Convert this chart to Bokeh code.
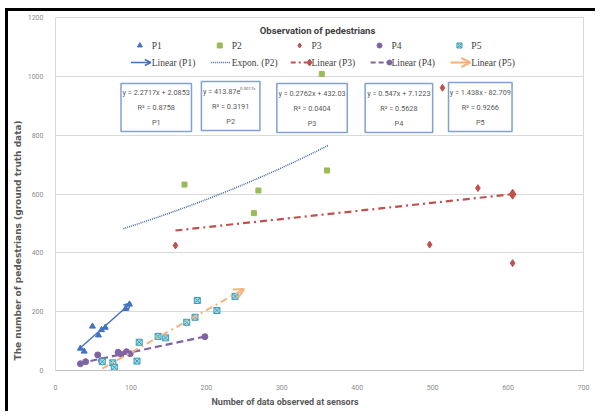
import numpy as np
from bokeh.plotting import figure
from bokeh.models import Label, Arrow, OpenHead, FixedTicker, Range1d, Title
from bokeh.core.properties import value
from bokeh.embed import file_html
from bokeh.resources import INLINE

# ---------------- data ----------------
p1_x = [33, 38, 49, 57, 61, 66, 93, 98]
p1_y = [75, 65, 150, 120, 138, 146, 210, 225]
p2_x = [171, 263, 269, 353, 360]
p2_y = [632, 535, 612, 1008, 680]
p3_x = [159, 496, 513, 560, 606, 606]
p3_y = [425, 428, 961, 620, 597, 365]
p4_x = [33, 40, 56, 61, 83, 87, 94, 99, 198]
p4_y = [23, 30, 53, 33, 62, 55, 64, 57, 115]
p5_x = [62, 76, 78, 108, 111, 136, 146, 174, 185, 188, 214, 238]
p5_y = [30, 26, 11, 32, 96, 116, 111, 164, 181, 238, 204, 252]

# trend line coefficients and x spans
p1_fit = (2.2717, 2.0853)
p2_fit = (413.87, 0.0017)
p3_fit = (0.2762, 432.03)
p4_fit = (0.547, 7.1223)
p5_fit = (1.438, -82.709)
p1_span = (32, 100)
p2_span = (90, 362)
p3_span = (159, 606)
p4_span = (32, 200)
p5_span = (62, 250)

series_names = ["P1", "P2", "P3", "P4", "P5"]
trend_names = ["Linear (P1)", "Expon. (P2)", "Linear (P3)", "Linear (P4)", "Linear (P5)"]
eq_lines = ["y = 2.2717x + 2.0853", "y = 413.87e", "y = 0.2762x + 432.03",
            "y = 0.547x + 7.1223", "y = 1.438x - 82.709"]
eq_sup = "0.0017x"
r2_lines = ["R² = 0.8758", "R² = 0.3191", "R² = 0.0404", "R² = 0.5628", "R² = 0.9266"]

x_ticks = [0, 100, 200, 300, 400, 500, 600, 700]
y_ticks = [0, 200, 400, 600, 800, 1000, 1200]

title_text = "Observation of pedestrians"
x_title = "Number of data observed at sensors"
y_title = "The number of pedestrians (ground truth data)"

# ---------------- colours ----------------
c1, c2, c3, c4, c5 = "#4472C4", "#9BBB59", "#C0504D", "#8064A2", "#4BACC6"
c2t = "#3F67A8"
c5t = "#F6B27E"

# ---------------- layout ----------------
OX, OY = 8, 11                     # canvas origin on the page
W, H = 598 - OX, 414 - OY
FL, FR, FT, FB = 51 - OX, 583 - OX, 17 - OY, 370 - OY   # frame in canvas pixels
X0, X1, Y0, Y1 = 0, 700, 0, 1200
sx = (FR - FL) / (X1 - X0)
sy = (FB - FT) / (Y1 - Y0)


def dx(px):  # page pixel -> data x
    return X0 + (px - OX - FL) / sx


def dy(py):  # page pixel -> data y
    return Y0 + (FB - (py - OY)) / sy


SANS = "Roboto"

p = figure(width=W, height=H, x_range=Range1d(X0, X1), y_range=Range1d(Y0, Y1),
           output_backend="svg", toolbar_location=None,
           min_border_left=FL, min_border_right=W - FR,
           min_border_top=FT, min_border_bottom=H - FB)
p.styles = {"position": "relative", "left": "%dpx" % OX, "top": "%dpx" % OY,
            "box-shadow": "-3px -3px 0px 0px #000000"}
p.background_fill_color = "white"
p.border_fill_color = "white"
p.outline_line_color = "#D9D9D9"
p.xgrid.grid_line_color = None
p.ygrid.grid_line_color = "#D9D9D9"
p.ygrid.grid_line_width = 1.2

p.xaxis.ticker = FixedTicker(ticks=x_ticks)
p.yaxis.ticker = FixedTicker(ticks=y_ticks)
for ax in (p.xaxis[0], p.yaxis[0]):
    ax.major_tick_line_color = None
    ax.minor_tick_line_color = None
    ax.major_label_text_font = SANS
    ax.major_label_text_font_size = "7px"
    ax.major_label_text_color = "#8C8C8C"
p.xaxis.axis_line_color = "#BFBFBF"
p.yaxis.axis_line_color = None
p.xaxis.major_label_standoff = 8
p.yaxis.major_label_standoff = 6

# axis titles as side-panel titles (placed off-centre like the original)
p.add_layout(Title(text=x_title, align="left", offset=156, text_font=SANS,
                   text_font_style="bold", text_font_size="9px", text_color="#595959",
                   standoff=4), "below")
p.add_layout(Title(text=y_title, align="left", offset=10, text_font="DejaVu Sans",
                   text_font_style="bold", text_font_size="9px", text_color="#595959",
                   standoff=4), "left")

# ---------------- trend lines ----------------
xs2 = np.linspace(p2_span[0], p2_span[1], 60)
p.line(xs2, p2_fit[0] * np.exp(p2_fit[1] * xs2), line_color=c2t, line_width=1.5, line_dash="1 1")

xs3 = np.array(p3_span, dtype=float)
p.line(xs3, p3_fit[0] * xs3 + p3_fit[1], line_color=c3, line_width=2.2, line_dash="7 4 2 4")
p.scatter([xs3[-1]], [p3_fit[0] * xs3[-1] + p3_fit[1]], marker="diamond", size=10, color=c3)

xs4 = np.array(p4_span, dtype=float)
p.line(xs4, p4_fit[0] * xs4 + p4_fit[1], line_color=c4, line_width=2.2, line_dash="7 4")

p.add_layout(Arrow(end=OpenHead(size=7, line_color=c1, line_width=1.5),
                   x_start=p1_span[0], y_start=p1_fit[0] * p1_span[0] + p1_fit[1],
                   x_end=p1_span[1], y_end=p1_fit[0] * p1_span[1] + p1_fit[1],
                   line_color=c1, line_width=1.5))
p.add_layout(Arrow(end=OpenHead(size=10, line_color=c5t, line_width=2),
                   x_start=p5_span[0], y_start=p5_fit[0] * p5_span[0] + p5_fit[1],
                   x_end=p5_span[1], y_end=p5_fit[0] * p5_span[1] + p5_fit[1],
                   line_color=c5t, line_width=2, line_dash="7 4 2 4"))

# ---------------- points ----------------
p.scatter(p1_x, p1_y, marker="triangle", size=6, color=c1)
p.scatter(p2_x, p2_y, marker="square", size=5, color=c2)
p.scatter(p3_x, p3_y, marker="diamond", size=7, color=c3)
p.scatter(p4_x, p4_y, marker="circle", size=6, color=c4)
p.scatter(p5_x, p5_y, marker="square_x", size=6, fill_color="#A9DCE8", line_color="#3A9DB5")

# ---------------- legend (drawn by hand, two rows) ----------------
pitch = 80.5
row1, row2 = 45, 62
mk = ["triangle", "square", "diamond", "circle", "square_x"]
cols = [c1, c2, c3, c4, c5]
for i in range(5):
    base = 127 + i * pitch
    if mk[i] == "square_x":
        p.scatter([dx(base + 9)], [dy(row1)], marker=mk[i], size=5, fill_color="#A9DCE8", line_color="#3A9DB5")
    else:
        p.scatter([dx(base + 9)], [dy(row1)], marker=mk[i], size=5, color=cols[i])
p.text(x=[dx(148 + i * pitch) for i in range(5)], y=[dy(row1)] * 5, text=series_names,
       text_font=value("Liberation Serif"), text_font_size=value("9.5px"),
       text_color="#404040", text_baseline="middle", text_align="left")

b = [127 + i * pitch for i in range(5)]
p.add_layout(Arrow(end=OpenHead(size=6, line_color=c1, line_width=1.5),
                   x_start=dx(b[0]), y_start=dy(row2), x_end=dx(b[0] + 20), y_end=dy(row2),
                   line_color=c1, line_width=1.5))
p.line([dx(b[1]), dx(b[1] + 20)], [dy(row2)] * 2, line_color=c2t, line_width=1.5, line_dash="1 1")
p.line([dx(b[2]), dx(b[2] + 19)], [dy(row2)] * 2, line_color=c3, line_width=2, line_dash="5 3 2 3")
p.scatter([dx(b[2] + 19)], [dy(row2)], marker="diamond", size=7, color=c3)
p.line([dx(b[3]), dx(b[3] + 19)], [dy(row2)] * 2, line_color=c4, line_width=2, line_dash="5 3")
p.scatter([dx(b[3] + 19)], [dy(row2)], marker="circle", size=5, color=c4)
p.add_layout(Arrow(end=OpenHead(size=9, line_color=c5t, line_width=2),
                   x_start=dx(b[4]), y_start=dy(row2), x_end=dx(b[4] + 20), y_end=dy(row2),
                   line_color=c5t, line_width=2))
p.text(x=[dx(148 + i * pitch) for i in range(5)], y=[dy(row2)] * 5, text=trend_names,
       text_font=value("Liberation Serif"), text_font_size=value("9.5px"),
       text_color="#404040", text_baseline="middle", text_align="left")

# ---------------- equation boxes ----------------
boxes = [(117, 188, 83, 131), (198, 257, 81, 130), (274, 345, 83, 132),
         (363, 431, 83, 132), (447, 511, 82, 131)]
p.quad(left=[dx(bx[0]) for bx in boxes], right=[dx(bx[1]) for bx in boxes],
       top=[dy(bx[2]) for bx in boxes], bottom=[dy(bx[3]) for bx in boxes],
       fill_color="white", line_color="#7FA2D2", line_width=1.5)
cx = [dx((bx[0] + bx[1]) / 2) for bx in boxes]
ty = [(bx[2] + bx[3]) / 2 for bx in boxes]
tfont = value(SANS)
tsize = value("7.3px")
p.text(x=[cx[i] for i in (0, 2, 3, 4)], y=[dy(ty[i] - 15) for i in (0, 2, 3, 4)],
       text=[eq_lines[i] for i in (0, 2, 3, 4)], text_font=tfont, text_font_size=tsize,
       text_color="#595959", text_align="center", text_baseline="middle")
p.text(x=[dx(boxes[1][0] + 1.5)], y=[dy(ty[1] - 15)], text=[eq_lines[1]], text_font=tfont,
       text_font_size=tsize, text_color="#595959", text_align="left", text_baseline="middle")
p.text(x=[dx(boxes[1][0] + 39)], y=[dy(ty[1] - 18)], text=[eq_sup], text_font=tfont,
       text_font_size=value("4.3px"), text_color="#595959", text_align="left", text_baseline="middle")
p.text(x=cx, y=[dy(t) for t in ty], text=r2_lines, text_font=tfont, text_font_size=tsize,
       text_color="#595959", text_align="center", text_baseline="middle")
p.text(x=cx, y=[dy(t + 15) for t in ty], text=series_names, text_font=tfont,
       text_font_size=tsize, text_color="#595959", text_align="center", text_baseline="middle")

# ---------------- chart title ----------------
p.add_layout(Label(x=dx(315), y=dy(30), text=title_text, text_font=SANS,
                   text_font_style="bold", text_font_size="9.5px", text_color="#404040",
                   text_align="center", text_baseline="middle"))

open("out.html", "w").write(file_html(p, INLINE))
